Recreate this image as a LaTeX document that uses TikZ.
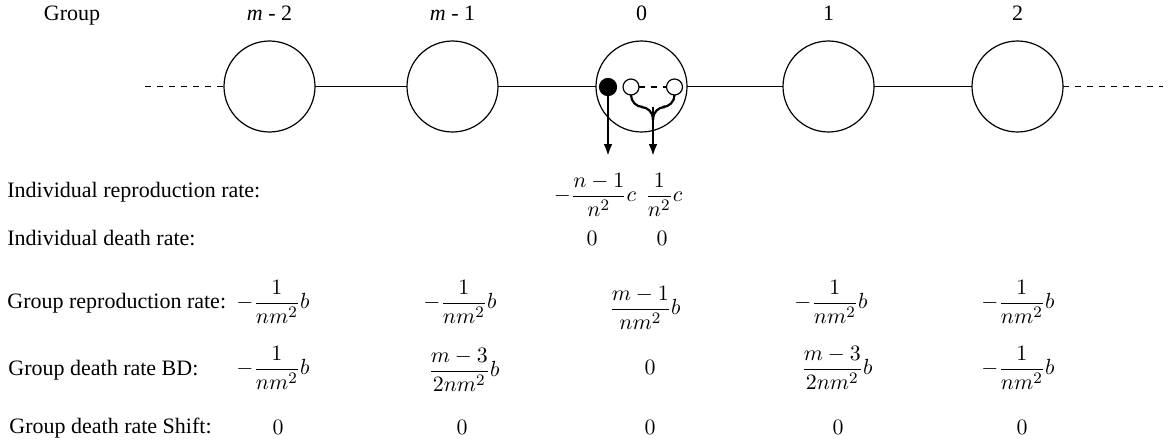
\documentclass[tikz,border=0pt]{standalone}
\usepackage{fontspec}
\setmainfont{Liberation Serif}
\usepackage{amsmath}
\usepackage{tikz}
\usetikzlibrary{arrows.meta, positioning, calc}
\tikzset{
  grupo/.style={
    draw, circle, line width=0.6pt, minimum size=45.5pt, inner sep=0pt, outer sep=0pt
  },
  ponto/.style={draw, circle, line width=0.6pt, minimum size=8pt, inner sep=0pt, outer sep=0pt, fill=white},
  pontoCheio/.style={ponto, fill=black, minimum size=8.5pt},
  ligacao/.style={line width=0.6pt},
  seta/.style={-{Latex[length=6pt, width=4.4pt]}, line width=1.1pt},
}

\begin{document}
\begin{tikzpicture}[
    x=0.5pt, y=-0.5pt,
    texto/.style={
        inner sep=0pt,
        font=\fontsize{11}{13}\selectfont
    },
    rotulo/.style={
        texto,
        anchor=base west
    },
    titulo/.style={
        texto,
        anchor=base
    },
    chave/.style={
        line width=1.1pt,
        rounded corners=6pt
    }
]
\useasboundingbox (0,0) rectangle (1176,444);

% Grupos
\node[titulo] (tGrupo) at (72,21) {Group};
\node[titulo] (tA) at (269.5,21) {\textit{m} - 2};
\node[titulo] (tB) at (452.5,21) {\textit{m} - 1};
\node[titulo] (tC) at (641.5,21) {0};
\node[titulo] (tD) at (828.5,21) {1};
\node[titulo] (tE) at (1017.5,21) {2};

\node[grupo] (gA) at (269.5,86.5) {};
\node[grupo] (gB) at (452.5,86.5) {};
\node[grupo] (gC) at (641.5,86.5) {};
\node[grupo] (gD) at (828.5,86.5) {};
\node[grupo] (gE) at (1017.5,86.5) {};

\coordinate (esq) at (145,86.5);
\coordinate (dir) at (1163,86.5);

\draw[ligacao, dashed] (esq) -- (gA);
\draw[ligacao] (gA) -- (gB);
\draw[ligacao] (gB) -- (gC);
\draw[ligacao] (gC) -- (gD);
\draw[ligacao] (gD) -- (gE);
\draw[ligacao, dashed] (gE) -- (dir);

% Individuos no grupo 0
\node[pontoCheio] (preto) at (608,87) {};
\node[ponto] (brancoA) at (631,87) {};
\node[ponto] (brancoB) at (674.5,87) {};
\draw[ligacao, dashed] (brancoA) -- (brancoB);

\coordinate (bico) at (653,107);
\coordinate (baixo) at (653,120);
\coordinate (fimA) at (608,156);
\coordinate (fimB) at (653,156);

\draw[chave] (brancoA.south) |- (bico) -- (baixo);
\draw[chave] (brancoB.south) |- (bico) -- (baixo);
\draw[seta] (preto.south) -- (fimA);
\draw[seta] (bico) -- (fimB);

% Taxas individuais
\node[rotulo] (lIR) at (7,197) {Individual reproduction rate:};
\node[texto] (irA) at (595,195) {$-\dfrac{n-1}{n^2}c$};
\node[texto] (irB) at (664,195) {$\dfrac{1}{n^2}c$};

\node[rotulo] (lID) at (7,245) {Individual death rate:};
\node[texto] (idA) at (592,238) {$0$};
\node[texto] (idB) at (662,238) {$0$};

% Taxas de grupo
\node[rotulo] (lGR) at (7,308) {Group reproduction rate:};
\node[texto] (grA) at (273,302) {$-\dfrac{1}{nm^2}b$};
\node[texto] (grB) at (460,302) {$-\dfrac{1}{nm^2}b$};
\node[texto] (grC) at (645,308) {$\dfrac{m-1}{nm^2}b$};
\node[texto] (grD) at (831,302) {$-\dfrac{1}{nm^2}b$};
\node[texto] (grE) at (1018,302) {$-\dfrac{1}{nm^2}b$};

\node[rotulo] (lBD) at (8,375) {Group death rate BD:};
\node[texto] (bdA) at (273,368) {$-\dfrac{1}{nm^2}b$};
\node[texto] (bdB) at (464,370) {$\dfrac{m-3}{2nm^2}b$};
\node[texto] (bdC) at (650,367) {$0$};
\node[texto] (bdD) at (837,368) {$\dfrac{m-3}{2nm^2}b$};
\node[texto] (bdE) at (1018,368) {$-\dfrac{1}{nm^2}b$};

\node[rotulo] (lSH) at (9,433) {Group death rate Shift:};
\node[texto] (shA) at (278,427) {$0$};
\node[texto] (shB) at (462,427) {$0$};
\node[texto] (shC) at (650,427) {$0$};
\node[texto] (shD) at (838,427) {$0$};
\node[texto] (shE) at (1022,427) {$0$};

\end{tikzpicture}
\end{document}
